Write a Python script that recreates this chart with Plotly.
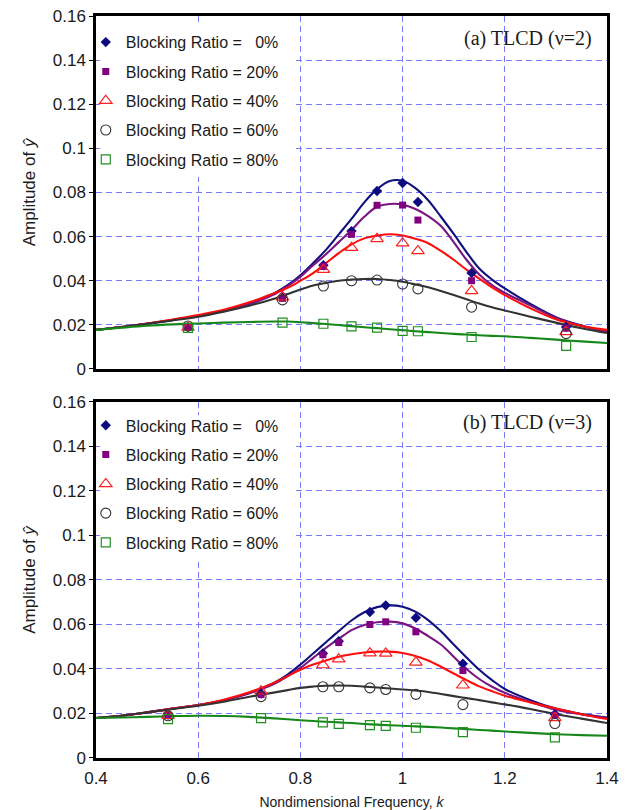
import plotly.graph_objects as go

# ---------------- data ----------------
labels = ["Blocking Ratio =   0%", "Blocking Ratio = 20%", "Blocking Ratio = 40%",
          "Blocking Ratio = 60%", "Blocking Ratio = 80%"]

# smooth (theory) curves
k_curve = [0.4, 0.45, 0.5, 0.55, 0.6, 0.65, 0.7, 0.75, 0.775, 0.8, 0.825, 0.85, 0.875, 0.9,
           0.925, 0.95, 0.975, 1.0, 1.025, 1.05, 1.075, 1.1, 1.125, 1.15, 1.175, 1.2,
           1.25, 1.3, 1.35, 1.4]

a_curve_0 = [0.0177, 0.019, 0.0205, 0.0222, 0.0241, 0.0264, 0.0295, 0.0345, 0.038, 0.0425,
             0.048, 0.054, 0.061, 0.068, 0.0755, 0.0815, 0.0852, 0.0853, 0.082, 0.0765,
             0.069, 0.0612, 0.053, 0.0455, 0.0405, 0.0365, 0.0295, 0.0235, 0.0197, 0.017]
a_curve_20 = [0.0177, 0.019, 0.0205, 0.0222, 0.0241, 0.0264, 0.0294, 0.034, 0.0375, 0.0418,
              0.047, 0.052, 0.0575, 0.063, 0.069, 0.0735, 0.0748, 0.0745, 0.0725, 0.0693,
              0.0648, 0.0575, 0.0495, 0.0428, 0.038, 0.0345, 0.0288, 0.0232, 0.0195, 0.017]
a_curve_40 = [0.0177, 0.019, 0.0206, 0.0224, 0.0244, 0.0268, 0.0302, 0.0345, 0.0368, 0.040,
              0.0435, 0.048, 0.0525, 0.0565, 0.0592, 0.0605, 0.0611, 0.0605, 0.059, 0.057,
              0.0535, 0.0495, 0.045, 0.041, 0.037, 0.0335, 0.0275, 0.0225, 0.0195, 0.0177]
a_curve_60 = [0.0177, 0.019, 0.0205, 0.022, 0.0237, 0.026, 0.0287, 0.032, 0.034, 0.036,
              0.0378, 0.039, 0.040, 0.0405, 0.0408, 0.0408, 0.0403, 0.0395, 0.0383, 0.037,
              0.0353, 0.0335, 0.0316, 0.0297, 0.028, 0.0265, 0.0237, 0.021, 0.0185, 0.0163]
a_curve_80 = [0.0177, 0.0187, 0.0196, 0.0202, 0.0206, 0.021, 0.0213, 0.0215, 0.0215, 0.0212,
              0.0208, 0.0204, 0.0199, 0.0194, 0.0189, 0.0185, 0.018, 0.0176, 0.0171, 0.0167,
              0.0163, 0.0159, 0.0156, 0.0153, 0.015, 0.0148, 0.0141, 0.0133, 0.0125, 0.0118]

b_curve_0 = [0.018, 0.019, 0.0205, 0.0222, 0.0238, 0.026, 0.0292, 0.034, 0.0375, 0.042,
             0.047, 0.052, 0.057, 0.0618, 0.0655, 0.0678, 0.0686, 0.068, 0.0658, 0.062,
             0.057, 0.051, 0.0452, 0.0397, 0.035, 0.031, 0.026, 0.0222, 0.0198, 0.0182]
b_curve_20 = [0.018, 0.019, 0.0205, 0.0222, 0.0238, 0.026, 0.0291, 0.0335, 0.0368, 0.0405,
              0.045, 0.0495, 0.0535, 0.0575, 0.0598, 0.061, 0.0613, 0.0605, 0.0582, 0.0548,
              0.051, 0.0455, 0.040, 0.0355, 0.032, 0.0293, 0.0252, 0.0217, 0.0196, 0.018]
b_curve_40 = [0.018, 0.019, 0.0205, 0.0222, 0.0238, 0.0262, 0.0295, 0.034, 0.0368, 0.0397,
              0.042, 0.0438, 0.0455, 0.0466, 0.0474, 0.0478, 0.0478, 0.0472, 0.0458, 0.0438,
              0.041, 0.038, 0.035, 0.0322, 0.030, 0.028, 0.025, 0.0222, 0.0197, 0.0175]
b_curve_60 = [0.018, 0.019, 0.0205, 0.022, 0.0235, 0.0253, 0.0275, 0.0295, 0.0305, 0.0315,
              0.0321, 0.0325, 0.0326, 0.0325, 0.0321, 0.0317, 0.0312, 0.0308, 0.0303, 0.0297,
              0.0288, 0.0278, 0.0269, 0.026, 0.025, 0.0241, 0.022, 0.0197, 0.0177, 0.0157]
b_curve_80 = [0.018, 0.0182, 0.0185, 0.0188, 0.019, 0.0189, 0.0185, 0.0178, 0.0174, 0.017,
              0.0166, 0.0163, 0.016, 0.0157, 0.0153, 0.015, 0.0147, 0.0145, 0.0142, 0.014,
              0.0137, 0.0133, 0.013, 0.0126, 0.0123, 0.0119, 0.0113, 0.0107, 0.0103, 0.010]

# experimental points
k_pts_a = [0.58, 0.765, 0.845, 0.9, 0.95, 1.0, 1.03, 1.135, 1.32]
a_pts_0 = [0.019, 0.033, 0.047, 0.0625, 0.0807, 0.0843, 0.0757, 0.0435, 0.019]
a_pts_20 = [0.019, 0.032, 0.0465, 0.061, 0.0742, 0.0743, 0.0675, 0.040, 0.0185]
a_pts_40 = [0.0188, 0.0325, 0.045, 0.055, 0.059, 0.057, 0.0535, 0.0354, 0.0168]
a_pts_60 = [0.0195, 0.0313, 0.0376, 0.040, 0.0403, 0.0385, 0.0363, 0.028, 0.016]
a_pts_80 = [0.0186, 0.021, 0.0205, 0.0193, 0.0187, 0.0173, 0.0171, 0.0145, 0.0105]

k_pts_b = [0.541, 0.723, 0.844, 0.875, 0.936, 0.967, 1.026, 1.118, 1.298]
b_pts_0 = [0.0195, 0.029, 0.047, 0.0525, 0.0656, 0.0686, 0.063, 0.0424, 0.0197]
b_pts_20 = [0.019, 0.0285, 0.0464, 0.0519, 0.060, 0.0612, 0.0567, 0.0393, 0.0192]
b_pts_40 = [0.019, 0.030, 0.0418, 0.0444, 0.0471, 0.047, 0.043, 0.0327, 0.018]
b_pts_60 = [0.019, 0.0276, 0.032, 0.032, 0.0315, 0.0308, 0.0286, 0.024, 0.0155]
b_pts_80 = [0.0175, 0.0179, 0.016, 0.0153, 0.0148, 0.0144, 0.0136, 0.0116, 0.0093]

x_ticks = [0.4, 0.6, 0.8, 1.0, 1.2, 1.4]
x_ticktext = ["0.4", "0.6", "0.8", "1", "1.2", "1.4"]
y_ticks = [0, 0.02, 0.04, 0.06, 0.08, 0.1, 0.12, 0.14, 0.16]
y_ticktext = ["0", "0.02", "0.04", "0.06", "0.08", "0.1", "0.12", "0.14", "0.16"]

# ---------------- styles ----------------
line_colors = ["#10107f", "#7a1480", "#ff0d0d", "#333333", "#16871a"]
marker_styles = [
    dict(symbol="diamond", size=8, color="#0c0c80"),
    dict(symbol="square", size=7, color="#800080"),
    dict(symbol="triangle-up-open", size=11, color="#ff2020", line=dict(width=1.2)),
    dict(symbol="circle-open", size=10, color="#333333", line=dict(width=1.1)),
    dict(symbol="square-open", size=9, color="#209020", line=dict(width=1.2)),
]

panels = [
    ("x", "y", "legend", k_pts_a,
     [a_curve_0, a_curve_20, a_curve_40, a_curve_60, a_curve_80],
     [a_pts_0, a_pts_20, a_pts_40, a_pts_60, a_pts_80], "a"),
    ("x2", "y2", "legend2", k_pts_b,
     [b_curve_0, b_curve_20, b_curve_40, b_curve_60, b_curve_80],
     [b_pts_0, b_pts_20, b_pts_40, b_pts_60, b_pts_80], "b"),
]

fig = go.Figure()
for xa, ya, leg, kp, curves, pts, tag in panels:
    for i in range(5):
        fig.add_trace(go.Scatter(
            x=k_curve, y=curves[i], mode="lines", xaxis=xa, yaxis=ya,
            line=dict(color=line_colors[i], width=2.1, shape="spline", smoothing=1.0),
            showlegend=False, hoverinfo="skip"))
    for i in range(5):
        fig.add_trace(go.Scatter(
            x=kp, y=pts[i], mode="markers", xaxis=xa, yaxis=ya,
            marker=marker_styles[i], name=labels[i], legend=leg,
            legendgroup=f"{tag}{i}", showlegend=True))

grid_color = "#7a7aff"
axis_common = dict(
    showline=True, linecolor="black", linewidth=2.5, mirror=True,
    showgrid=True, gridcolor=grid_color, griddash="6px,4px", gridwidth=1,
    zeroline=False, automargin=False,
    tickfont=dict(family="Liberation Sans, Arial", size=17, color="#1a1a1a"),
)

title_font = dict(family="Liberation Sans, Arial", size=17, color="#1a1a1a")
legend_common = dict(
    bgcolor="rgba(0,0,0,0)", borderwidth=0, tracegroupgap=5.5,
    font=dict(family="Liberation Sans, Arial", size=16, color="#1a1a1a"),
    xanchor="left", yanchor="top", itemsizing="trace",
)

# white patches behind the legends (the original hides the grid there)
shapes = [
    dict(type="rect", xref="x", yref="y", x0=0.408, x1=0.79, y0=0.087, y1=0.1555,
         fillcolor="white", line=dict(width=0), layer="between"),
    dict(type="rect", xref="x2", yref="y2", x0=0.408, x1=0.79, y0=0.089, y1=0.154,
         fillcolor="white", line=dict(width=0), layer="between"),
]

fig.update_layout(
    width=628, height=810,
    margin=dict(l=96, r=21, t=16, b=52, autoexpand=False),
    paper_bgcolor="white", plot_bgcolor="white",
    xaxis=dict(domain=[0, 1], range=[0.4, 1.4], anchor="y", tickvals=x_ticks,
               showticklabels=False, ticks="", **axis_common),
    yaxis=dict(domain=[0.5243, 1], range=[0, 0.16], anchor="x", tickvals=y_ticks,
               ticktext=y_ticktext, ticks="outside", ticklen=4, tickcolor="black",
               title=dict(text="Amplitude of <i>ŷ</i>", font=title_font, standoff=13),
               **axis_common),
    xaxis2=dict(domain=[0, 1], range=[0.4, 1.4], anchor="y2", tickvals=x_ticks,
                ticktext=x_ticktext, ticks="", ticklabelstandoff=3,
                title=dict(text="Nondimensional Frequency, <i>k</i>",
                           font=dict(family="Liberation Sans, Arial", size=14, color="#1a1a1a"),
                           standoff=15),
                **axis_common),
    yaxis2=dict(domain=[0, 0.4798], range=[0, 0.16], anchor="x2", tickvals=y_ticks,
                ticktext=y_ticktext, ticks="outside", ticklen=4, tickcolor="black",
                title=dict(text="Amplitude of <i>ŷ</i>", font=title_font, standoff=13),
                **axis_common),
    legend=dict(x=-0.02, y=0.9876, **legend_common),
    legend2=dict(x=-0.02, y=0.4712, **legend_common),
    shapes=shapes,
    annotations=[
        dict(text="(a) TLCD (ν=2)", xref="paper", yref="paper", x=0.975, y=0.97,
             xanchor="right", yanchor="middle", showarrow=False,
             font=dict(family="Liberation Serif, Times New Roman", size=20, color="#1a1a1a")),
        dict(text="(b) TLCD (ν=3)", xref="paper", yref="paper", x=0.975, y=0.452,
             xanchor="right", yanchor="middle", showarrow=False,
             font=dict(family="Liberation Serif, Times New Roman", size=20, color="#1a1a1a")),
    ],
    showlegend=True,
)

fig.write_html("out.html")
